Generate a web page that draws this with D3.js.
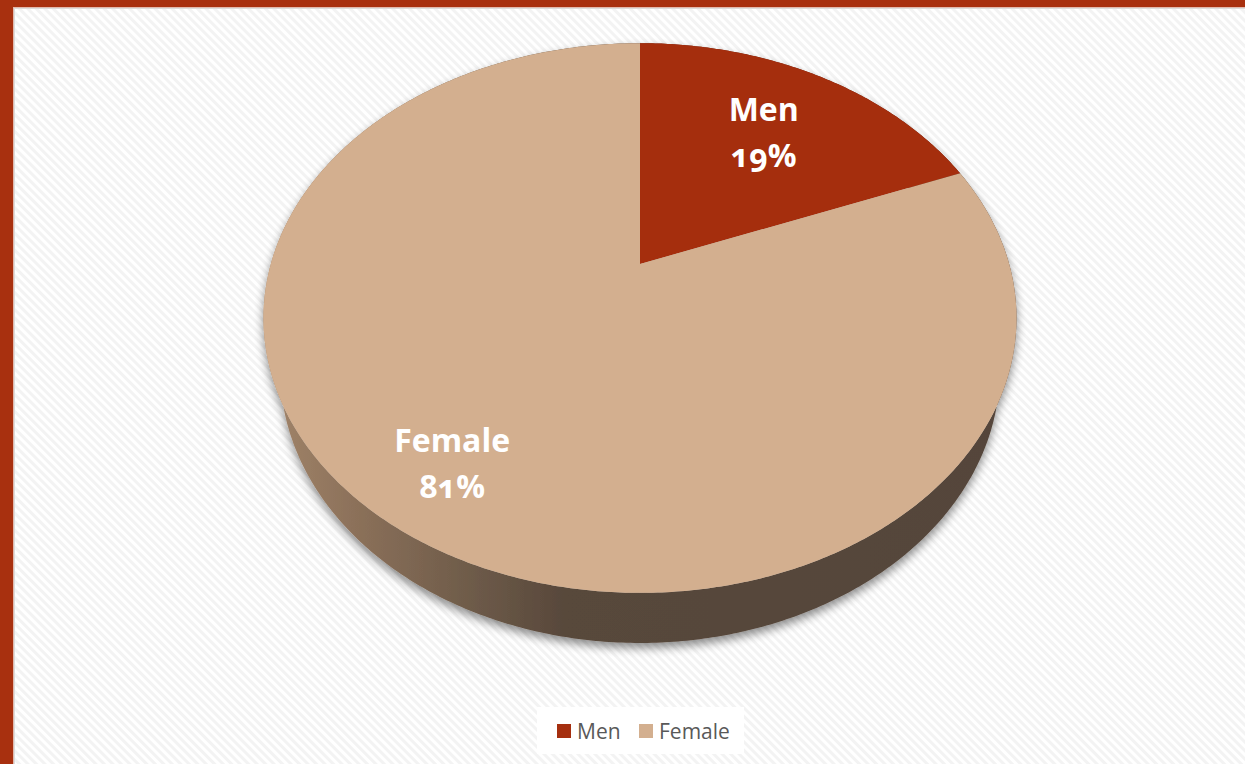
<!DOCTYPE html>
<html>
<head>
<meta charset="utf-8">
<script src="https://cdn.jsdelivr.net/npm/d3@7"></script>
<style>
  html, body { margin: 0; padding: 0; background: #fff; }
  svg { display: block; }
</style>
</head>
<body>
<svg id="chart" width="1245" height="764"></svg>
<script>
// Gender split shown as a tilted 3D pie
const categories = ["Men", "Female"];
const values = [19, 81];
const valueLabels = ["19%", "81%"];
const sliceColors = ["#A52F0F", "#D3AF8F"];

const W = 1245, H = 764;
const svg = d3.select("#chart");
const defs = svg.append("defs");

// faint diagonal hatching behind the plot
const pat = defs.append("pattern")
  .attr("id", "hatch").attr("width", 6).attr("height", 6)
  .attr("patternUnits", "userSpaceOnUse")
  .attr("patternTransform", "rotate(-45)");
pat.append("rect").attr("width", 6).attr("height", 6).attr("fill", "#ffffff");
pat.append("rect").attr("width", 3).attr("height", 6).attr("fill", "#f3f3f3");

svg.append("rect").attr("width", W).attr("height", H).attr("fill", "url(#hatch)");

// frame
const frameColor = "#A8300F";
svg.append("rect").attr("x", 0).attr("y", 0).attr("width", 13).attr("height", H).attr("fill", frameColor);
svg.append("rect").attr("x", 0).attr("y", 0).attr("width", W).attr("height", 7).attr("fill", frameColor);
svg.append("line").attr("x1", 13.5).attr("x2", 13.5).attr("y1", 7).attr("y2", H)
  .attr("stroke", "#e2b9ad").attr("stroke-width", 1);
svg.append("line").attr("x1", 13).attr("x2", W).attr("y1", 7.5).attr("y2", 7.5)
  .attr("stroke", "#e2b9ad").attr("stroke-width", 1);
svg.append("line").attr("x1", 14.5).attr("x2", 14.5).attr("y1", 8).attr("y2", H)
  .attr("stroke", "#dcdcdc").attr("stroke-width", 1);
svg.append("line").attr("x1", 14).attr("x2", W).attr("y1", 8.5).attr("y2", 8.5)
  .attr("stroke", "#dcdcdc").attr("stroke-width", 1);

// perspective camera for the pie disc
const cam = {
  cx: 640, cy: 264,          // screen position of the disc centre
  f: 1312, D: 1,             // focal length and camera distance
  R: 0.2814, h: 0.0624,      // disc radius and thickness (world units)
  tilt: 45.7 * Math.PI / 180 // elevation of the view
};
// angle a: clockwise from 12 o'clock; rr: radius; y: height (0 = top face)
function project(a, rr, y) {
  const X = rr * Math.sin(a), Z = rr * Math.cos(a);
  const yv = Z * Math.sin(cam.tilt) + y * Math.cos(cam.tilt);
  const zv = Z * Math.cos(cam.tilt) - y * Math.sin(cam.tilt);
  const s = cam.f / (cam.D + zv);
  return [cam.cx + X * s, cam.cy - yv * s];
}
function rimAngles(a0, a1) {
  const n = Math.max(2, Math.ceil((a1 - a0) / 0.01));
  return d3.range(n + 1).map(i => a0 + (a1 - a0) * i / n);
}

const pie = d3.pie().sort(null).value(d => d.value);
const data = categories.map((c, i) => ({ name: c, value: values[i], label: valueLabels[i], color: sliceColors[i] }));
const arcs = pie(data);
const line = d3.line().curve(d3.curveLinearClosed);

// side shading
const sideGrad = defs.append("linearGradient").attr("id", "sideGrad")
  .attr("gradientUnits", "userSpaceOnUse")
  .attr("x1", 263).attr("x2", 1016).attr("y1", 0).attr("y2", 0);
[[0, "#a3866b"], [0.12, "#8c715a"], [0.27, "#6f5c4a"], [0.4, "#58483b"], [1, "#54453a"]]
  .forEach(([o, c]) => sideGrad.append("stop").attr("offset", o).attr("stop-color", c));
const sideGradMen = defs.append("linearGradient").attr("id", "sideGradMen")
  .attr("gradientUnits", "userSpaceOnUse")
  .attr("x1", 263).attr("x2", 1016).attr("y1", 0).attr("y2", 0);
[[0, "#7a2410"], [1, "#5a1c0b"]]
  .forEach(([o, c]) => sideGradMen.append("stop").attr("offset", o).attr("stop-color", c));

// soft shadow under the disc
const shadow = defs.append("filter").attr("id", "shadow")
  .attr("x", "-10%").attr("y", "-10%").attr("width", "120%").attr("height", "130%");
shadow.append("feGaussianBlur").attr("in", "SourceAlpha").attr("stdDeviation", 5).attr("result", "b");
shadow.append("feOffset").attr("in", "b").attr("dx", 0).attr("dy", 5).attr("result", "o");
shadow.append("feComponentTransfer").attr("in", "o").attr("result", "s")
  .append("feFuncA").attr("type", "linear").attr("slope", 0.45);
const merge = shadow.append("feMerge");
merge.append("feMergeNode").attr("in", "s");
merge.append("feMergeNode").attr("in", "SourceGraphic");

const pieG = svg.append("g").attr("filter", "url(#shadow)");

// outer walls
pieG.selectAll("path.wall").data(arcs).join("path")
  .attr("class", "wall")
  .attr("d", d => {
    const angs = rimAngles(d.startAngle, d.endAngle);
    const top = angs.map(a => project(a, cam.R, 0));
    const bot = angs.slice().reverse().map(a => project(a, cam.R, -cam.h));
    return line(top.concat(bot));
  })
  .attr("fill", (d, i) => i === 0 ? "url(#sideGradMen)" : "url(#sideGrad)");

// top faces
pieG.selectAll("path.top").data(arcs).join("path")
  .attr("class", "top")
  .attr("d", d => {
    const pts = rimAngles(d.startAngle, d.endAngle).map(a => project(a, cam.R, 0));
    return line([project(0, 0, 0)].concat(pts));
  })
  .attr("fill", d => d.data.color);

// data labels inside the slices
const labelR = [0.66, 0.8];
const lbl = svg.selectAll("text.dl").data(arcs).join("text")
  .attr("class", "dl")
  .attr("text-anchor", "middle")
  .attr("fill", "#ffffff")
  .attr("font-family", "'Open Sans', sans-serif")
  .attr("font-weight", 700)
  .attr("font-size", 32)
  .style("font-variant-numeric", "oldstyle-nums")
  .attr("transform", (d, i) => {
    const p = project((d.startAngle + d.endAngle) / 2, cam.R * labelR[i], 0);
    return `translate(${p[0] + (i === 1 ? 3 : 0)},${p[1]})`;
  });
lbl.append("tspan").attr("x", 0).attr("y", -13).text(d => d.data.name);
lbl.append("tspan").attr("x", 0).attr("y", 33).text(d => d.data.label);

// legend
const legG = svg.append("g");
legG.append("rect").attr("x", 537).attr("y", 707).attr("width", 207).attr("height", 47).attr("fill", "#ffffff");
const legX = d3.scaleOrdinal().domain(categories).range([557, 639]);
const item = legG.selectAll("g.item").data(data).join("g").attr("class", "item")
  .attr("transform", d => `translate(${legX(d.name)},724)`);
item.append("rect").attr("width", 14).attr("height", 14).attr("fill", d => d.color);
item.append("text").attr("x", 20).attr("y", 14.5)
  .attr("font-family", "'Open Sans', sans-serif").attr("font-size", 21)
  .attr("fill", "#595959").text(d => d.name);
</script>
</body>
</html>
